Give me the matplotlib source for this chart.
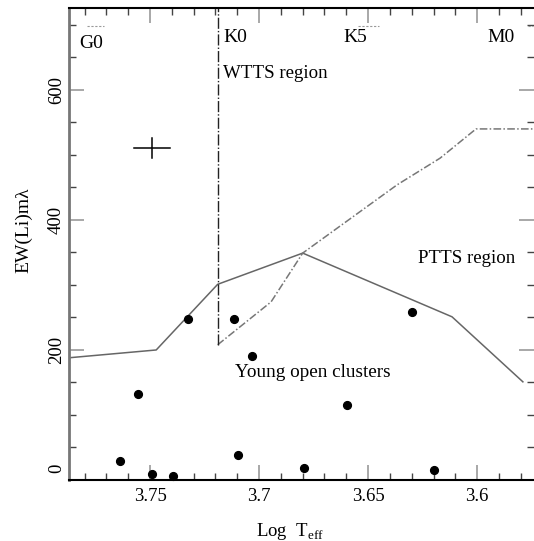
import numpy as np
import matplotlib
matplotlib.use('Agg')
import matplotlib.pyplot as plt
from matplotlib.ticker import MultipleLocator
import matplotlib.transforms as mtransforms

plt.rcParams['font.family'] = ['Liberation Serif', 'DejaVu Serif']
plt.rcParams['mathtext.fontset'] = 'custom'
plt.rcParams['mathtext.rm'] = 'Liberation Serif'

# young open cluster stars
cl_logt = [3.764, 3.7555, 3.749, 3.7394, 3.7326, 3.7115, 3.7032, 3.7096, 3.6298, 3.6596, 3.6794, 3.6197]
cl_ewli = [29, 132, 9, 6, 248, 248, 191, 38, 258, 115, 18, 15]

# upper envelope of young clusters (solid)
env_logt = [3.7872, 3.7472, 3.719, 3.680, 3.6115, 3.579]
env_ewli = [188, 200, 301, 349, 251, 151]

# PTTS / WTTS boundary (dash-dot)
bnd_logt = [3.719, 3.6945, 3.680, 3.6367, 3.617, 3.6005, 3.5739]
bnd_ewli = [208, 274, 349, 454, 495, 540, 540]
k0_logt = 3.719

# typical error
err_x, err_y = 3.749, 511
err_dx, err_dy = 0.0083, 15

sptypes = ['G0', 'K0', 'K5', 'M0']
sp_logt = [3.7825, 3.7165, 3.6615, 3.5955]
sp_ewli = [672, 680, 680, 680]

fig = plt.figure(figsize=(5.34, 5.41), dpi=100)
ax = fig.add_axes([69 / 534, 1 - 480 / 541, 1 - 69 / 534, 472 / 541])

ax.plot(env_logt, env_ewli, color='#666666', lw=1.1)
ax.plot(bnd_logt, bnd_ewli, color='#777777', lw=1.1, dashes=(5, 1.5, 1, 1.5))
ax.plot([k0_logt, k0_logt], [bnd_ewli[0], 730], color='#222222', lw=1.0, dashes=(8, 1.5, 1, 1.5))
ax.plot(cl_logt, cl_ewli, 'o', color='black', ms=5.6, clip_on=False)

ax.plot([err_x - err_dx, err_x + err_dx], [err_y, err_y], color='black', lw=1.1)
ax.plot([err_x, err_x], [err_y - err_dy, err_y + err_dy], color='black', lw=1.1)

# little marks near the spectral types
for x0, x1 in [(3.7788, 3.771), (3.6545, 3.645), (3.5765, 3.5745)]:
    ax.plot([x0, x1], [698, 698], color='#999999', lw=0.8, dashes=(2, 1.5))

for s, x, y in zip(sptypes, sp_logt, sp_ewli):
    ax.text(x, y, s, fontsize=14, ha='left', va='center')

ax.text(3.7165, 625, 'WTTS region', fontsize=13.6, ha='left', va='center')
ax.text(3.627, 340, 'PTTS region', fontsize=13.6, ha='left', va='center')
ax.text(3.711, 165, 'Young open clusters', fontsize=13.8, ha='left', va='center')

ax.set_xlim(3.7872, 3.5739)
ax.set_ylim(0, 726)

ax.xaxis.set_major_locator(MultipleLocator(0.05))
ax.xaxis.set_minor_locator(MultipleLocator(0.01))
ax.yaxis.set_major_locator(MultipleLocator(200))
ax.yaxis.set_minor_locator(MultipleLocator(50))
ax.set_xticks([3.75, 3.7, 3.65, 3.6])
ax.set_xticklabels(['3.75', '3.7', '3.65', '3.6'])

ax.tick_params(which='both', direction='in', top=True, right=True, labelsize=13.5)
ax.tick_params(which='major', length=11, width=1.2, color='#999999')
ax.tick_params(which='minor', length=5, width=1.0, color='#444444')
ax.tick_params(axis='y', which='major', pad=3)
ax.tick_params(axis='x', which='major', pad=6)
for lab in ax.get_yticklabels():
    lab.set_rotation(90)
    lab.set_va('center')

# the 0 label sits a little above its tick
off = mtransforms.ScaledTranslation(0, 12 / 100, fig.dpi_scale_trans)
for lab in ax.get_yticklabels():
    if lab.get_text() in ('0', '−0'):
        lab.set_transform(lab.get_transform() + off)

ax.spines['left'].set_color('#777777')
ax.spines['left'].set_linewidth(2.0)
ax.spines['bottom'].set_linewidth(1.5)
ax.spines['top'].set_linewidth(1.5)
ax.spines['right'].set_visible(False)

fig.text(24 / 534, 1 - 230 / 541, 'EW(Li)mλ', rotation=90, fontsize=14,
         ha='center', va='center')
fig.text(290 / 534, 1 - 531 / 541, r'Log  T$_\mathrm{eff}$', fontsize=13.5,
         ha='center', va='center')

fig.savefig('out.png', dpi=100)
